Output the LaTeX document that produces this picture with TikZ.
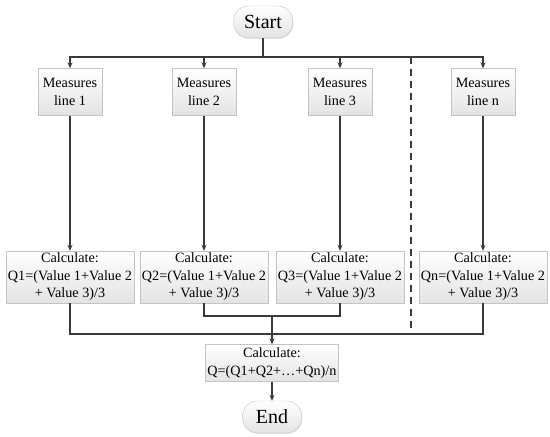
\documentclass[tikz,border=0pt]{standalone}
\usepackage{fontspec}
\setmainfont{Liberation Serif}
\usetikzlibrary{arrows.meta,shadows}

\definecolor{linegray}{HTML}{3A3A3A}
\definecolor{boxedge}{HTML}{C4C4C4}

\begin{document}
\begin{tikzpicture}[x=1pt, y=-1pt,
    flow/.style={line width=1.3pt, linegray},
    arr/.style={flow, -{Stealth[length=6pt, width=5pt]}},
    box/.style={draw=boxedge, thin, top color=white, bottom color=gray!22,
      copy shadow={shadow xshift=0.8pt, shadow yshift=-0.8pt, fill=gray!25, draw=none},
      align=center, inner sep=2pt, font=\fontsize{14.2}{17.5}\selectfont},
    terminal/.style={box, rounded corners=15pt, minimum width=59pt,
      minimum height=32pt, font=\fontsize{20}{22}\selectfont},
    measure/.style={box, minimum width=64pt, minimum height=47pt},
    calc/.style={box, minimum width=127pt, minimum height=52pt}]

  \useasboundingbox (0,0) rectangle (550,437);

  % --- start / end ---
  \node[terminal] (start) at (263,22) {Start};
  \node[box, minimum width=128pt, minimum height=37pt] (final) at (272,363)
    {Calculate:\\Q=(Q1+Q2+…+Qn)/n};
  \node[terminal] (stop) at (272,417) {End};

  % bus levels
  \coordinate (split) at (263,57);
  \coordinate (inner) at (272,316);
  \coordinate (merge) at (272,334);

  % --- one column per measured line ---
  \foreach \i/\x in {1/70, 2/204, 3/340, n/483} {
    \node[measure] (m\i) at (\x,92) {Measures\\line \i};
    \node[calc] (c\i) at (\x,277)
      {Calculate:\\Q\i=(Value 1+Value 2\\+ Value 3)/3};
    \draw[arr] (split) -| (m\i.north);
    \draw[arr] (m\i) -- (c\i);
  }

  \draw[flow] (start) -- (split);

  % --- collecting the results ---
  \draw[flow] (c2.south) -- (c2.south |- inner) -- (c3.south |- inner) -- (c3.south);
  \draw[flow] (c1.south) -- (c1.south |- merge) -- (cn.south |- merge) -- (cn.south);
  \draw[arr] (inner) -- (final);
  \draw[arr] (final) -- (stop);

  % separator before line n
  \draw[flow, dash pattern=on 7pt off 5pt] (411,57) -- (411,334);

\end{tikzpicture}
\end{document}
